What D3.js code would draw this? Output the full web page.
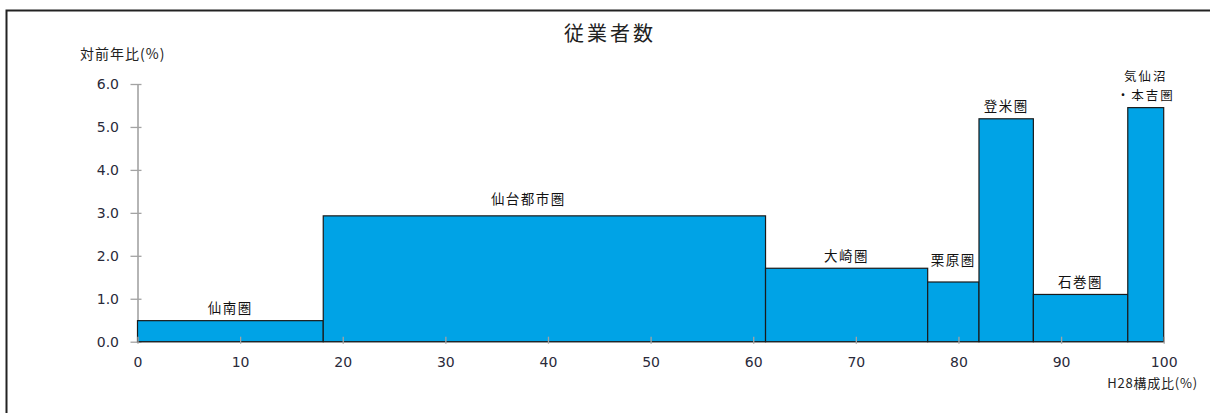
<!DOCTYPE html>
<html><head><meta charset="utf-8">
<script src="https://cdn.jsdelivr.net/npm/d3@7"></script>
<style>
html,body{margin:0;padding:0;background:#fff;}
svg{display:block;}
</style></head>
<body>
<svg id="chart" width="1210" height="413"></svg>
<script>
// ---- data ----
const categories = ["仙南圏","仙台都市圏","大崎圏","栗原圏","登米圏","石巻圏","気仙沼・本吉圏"];
const labelLines = [["仙南圏"],["仙台都市圏"],["大崎圏"],["栗原圏"],["登米圏"],["石巻圏"],["気仙沼","・本吉圏"]];
const shares = [18.1, 43.1, 15.8, 5.0, 5.3, 9.2, 3.5];     // H28構成比(%)
const growth = [0.49, 2.93, 1.71, 1.39, 5.19, 1.10, 5.45]; // 対前年比(%)
const xTicks = [0,10,20,30,40,50,60,70,80,90,100];
const yTicks = [0,1,2,3,4,5,6];
const title = "従業者数";
const yTitle = "対前年比(%)";
const xTitle = "H28構成比(%)";

// ---- layout ----
const svg = d3.select("#chart");
const x = d3.scaleLinear().domain([0,100]).range([137.5,1163.7]);
const y = d3.scaleLinear().domain([0,6]).range([341.7,84]);
const cjk = "'Noto Sans CJK JP','Noto Sans',sans-serif";
const num = "'DejaVu Sans',Verdana,sans-serif";

// frame
svg.append("path").attr("d","M6.5,413 V10.5 H1210").attr("fill","none")
  .attr("stroke","#222").attr("stroke-width",2);

// titles
svg.append("text").attr("x",610).attr("y",41).attr("text-anchor","middle")
  .attr("font-family",cjk).attr("font-size",20).attr("letter-spacing",3)
  .attr("fill","#222").text(title);
svg.append("text").attr("x",80).attr("y",59)
  .attr("font-family",cjk).attr("font-size",14).attr("letter-spacing",1).attr("fill","#222").text(yTitle);
svg.append("text").attr("x",1198).attr("y",388).attr("text-anchor","end")
  .attr("font-family",cjk).attr("font-size",13).attr("letter-spacing",0.8).attr("fill","#222").text(xTitle);

const axisColor = "#a3a3a3";
// y axis
const yAxis = svg.append("g").attr("transform",`translate(${x(0)},0)`)
  .call(d3.axisLeft(y).tickValues(yTicks).tickFormat(d3.format(".1f"))
    .tickSizeInner(7).tickSizeOuter(0).tickPadding(11.5));
yAxis.select(".domain").attr("stroke",axisColor).attr("stroke-width",1.6);
yAxis.selectAll(".tick line").attr("stroke",axisColor).attr("stroke-width",1.3).attr("x1",4);
yAxis.selectAll(".tick text").attr("font-family",num).attr("font-size",14).attr("fill","#2a2a3a");

// baseline under bars
svg.append("line").attr("x1",x(0)).attr("x2",x(100)).attr("y1",y(0)).attr("y2",y(0))
  .attr("stroke",axisColor).attr("stroke-width",1.6);

// bars
const starts = shares.map((s,i)=>d3.sum(shares.slice(0,i)));
const rows = categories.map((c,i)=>({c, x0:starts[i], x1:starts[i]+shares[i], v:growth[i], lines:labelLines[i]}));
svg.append("g").selectAll("rect").data(rows).join("rect")
  .attr("x",d=>x(d.x0)).attr("width",d=>x(d.x1)-x(d.x0))
  .attr("y",d=>y(d.v)).attr("height",d=>y(0)-y(d.v))
  .attr("fill","#00a3e6").attr("stroke","#1a1a1a").attr("stroke-width",1.2);

// x axis (ticks drawn over bars)
const xAxis = svg.append("g").attr("transform",`translate(0,${y(0)})`)
  .call(d3.axisBottom(x).tickValues(xTicks).tickFormat(d3.format("d"))
    .tickSizeInner(2).tickSizeOuter(0).tickPadding(13));
xAxis.select(".domain").remove();
xAxis.selectAll(".tick line").attr("stroke",axisColor).attr("stroke-width",1.3).attr("y1",-5);
xAxis.selectAll(".tick text").attr("font-family",num).attr("font-size",14).attr("fill","#2a2a3a");

// labels (one text per line)
const lift = {"仙台都市圏":18, "栗原圏":23};
const shiftX = {"仙台都市圏":-16};
const lineGap = 18.3;
const labelData = rows.flatMap(d => d.lines.map((t,i)=>({d, t, k: d.lines.length-1-i, multi: d.lines.length>1})));
svg.append("g").selectAll("text").data(labelData).join("text")
  .attr("x",o=>(x(o.d.x0)+x(o.d.x1))/2 + (shiftX[o.d.c]||0))
  .attr("y",o=>y(o.d.v) - (lift[o.d.c]||13.5) - o.k*lineGap)
  .attr("text-anchor","middle").attr("dominant-baseline","central")
  .attr("font-family",cjk)
  .attr("font-size",o=>o.multi?12.5:13.5)
  .attr("letter-spacing",o=>o.multi?2:1.5)
  .attr("fill","#111")
  .text(o=>o.t);
</script>
</body></html>
